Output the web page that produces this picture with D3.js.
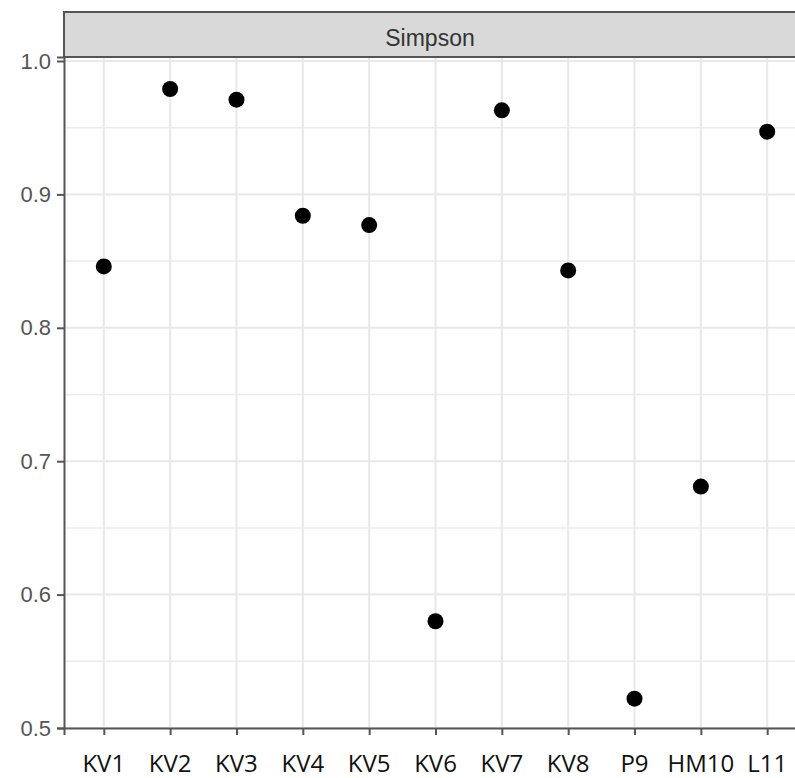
<!DOCTYPE html>
<html>
<head>
<meta charset="utf-8">
<script src="https://cdn.jsdelivr.net/npm/d3@7"></script>
<style>
  body { margin: 0; background: #fff; }
</style>
</head>
<body>
<div id="chart"></div>
<script>
// sample sites and their Simpson index
const sites = ["KV1", "KV2", "KV3", "KV4", "KV5", "KV6", "KV7", "KV8", "P9", "HM10", "L11"];
const simpson = [0.846, 0.979, 0.971, 0.884, 0.877, 0.580, 0.963, 0.843, 0.522, 0.681, 0.947];
const yTicks = [0.5, 0.6, 0.7, 0.8, 0.9, 1.0];
const yMinor = [0.55, 0.65, 0.75, 0.85, 0.95];
const stripLabel = "Simpson";

const W = 795, H = 778;
const panel = {left: 64, right: 807, top: 57, bottom: 728};
const stripTop = 12;

const svg = d3.select("#chart").append("svg")
    .attr("width", W)
    .attr("height", H);

const x = d3.scalePoint()
    .domain(sites)
    .range([panel.left, panel.right])
    .padding(0.6);

const y = d3.scaleLinear()
    .domain([0.5, 1.003])
    .range([panel.bottom, panel.top]);

// grid
const grid = svg.append("g");
grid.selectAll("line.minor").data(yMinor).enter().append("line")
    .attr("x1", panel.left).attr("x2", panel.right)
    .attr("y1", d => y(d)).attr("y2", d => y(d))
    .attr("stroke", "#ebebeb").attr("stroke-width", 1.5);
grid.selectAll("line.major").data(yTicks).enter().append("line")
    .attr("x1", panel.left).attr("x2", panel.right)
    .attr("y1", d => y(d)).attr("y2", d => y(d))
    .attr("stroke", "#e8e8e8").attr("stroke-width", 2);
grid.selectAll("line.vert").data(sites).enter().append("line")
    .attr("x1", d => x(d)).attr("x2", d => x(d))
    .attr("y1", panel.top).attr("y2", panel.bottom)
    .attr("stroke", "#e8e8e8").attr("stroke-width", 2);

// strip
svg.append("rect")
    .attr("x", panel.left).attr("y", stripTop)
    .attr("width", panel.right - panel.left).attr("height", panel.top - stripTop)
    .attr("fill", "#d9d9d9")
    .attr("stroke", "#555").attr("stroke-width", 2);
svg.append("text")
    .attr("x", 430).attr("y", 46)
    .attr("text-anchor", "middle")
    .attr("font-family", "Liberation Sans, Arial, sans-serif")
    .attr("font-size", 23)
    .attr("fill", "#333")
    .text(stripLabel);

// y axis
const yAxis = svg.append("g")
    .attr("transform", "translate(" + panel.left + ",0)")
    .call(d3.axisLeft(y).tickValues(yTicks).tickFormat(d3.format(".1f")).tickSize(7).tickPadding(6));
yAxis.select(".domain").attr("stroke", "#555").attr("stroke-width", 2);
yAxis.selectAll(".tick line").attr("stroke", "#555").attr("stroke-width", 2);
yAxis.selectAll(".tick text")
    .attr("font-family", "Liberation Sans, Arial, sans-serif")
    .attr("font-size", 22)
    .attr("fill", "#555");

// x axis
const xAxis = svg.append("g")
    .attr("transform", "translate(0," + panel.bottom + ")")
    .call(d3.axisBottom(x).tickSize(7).tickFormat(""));
xAxis.select(".domain").attr("stroke", "#555").attr("stroke-width", 2);
xAxis.selectAll(".tick line").attr("stroke", "#555").attr("stroke-width", 2);

svg.append("g").selectAll("text").data(sites).enter().append("text")
    .attr("x", d => x(d))
    .attr("y", 772)
    .attr("text-anchor", "middle")
    .attr("font-family", "Open Sans, sans-serif")
    .attr("font-size", 24)
    .attr("fill", "#111")
    .text(d => d);

// points
svg.append("g").selectAll("circle").data(simpson).enter().append("circle")
    .attr("cx", (d, i) => x(sites[i]))
    .attr("cy", d => y(d))
    .attr("r", 8)
    .attr("fill", "#000");
</script>
</body>
</html>
